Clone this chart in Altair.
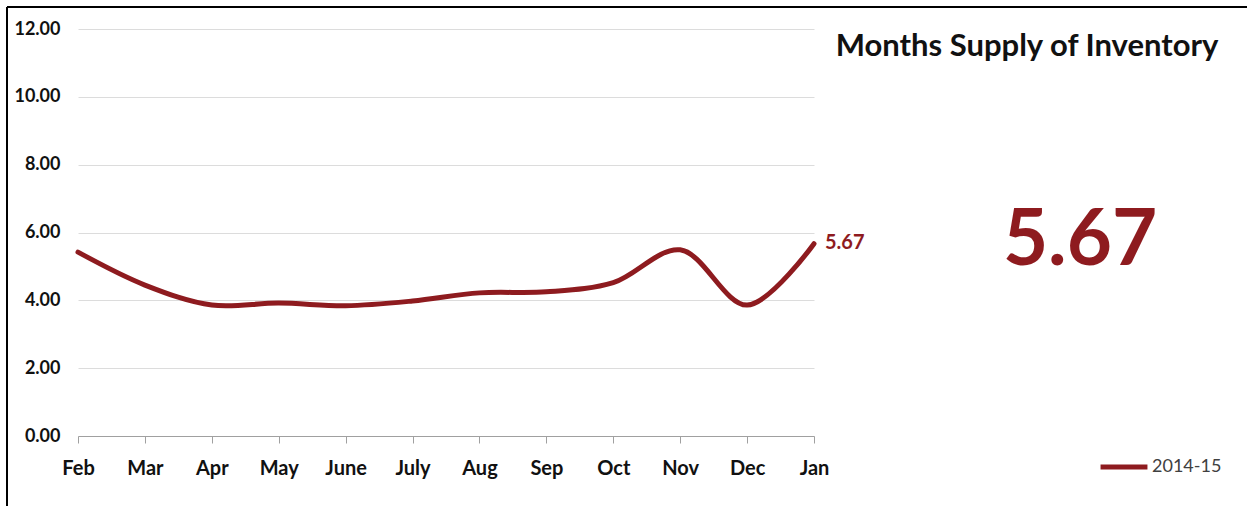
import altair as alt
import pandas as pd

months = ["Feb", "Mar", "Apr", "May", "June", "July", "Aug", "Sep", "Oct", "Nov", "Dec", "Jan"]
values = [5.42, 4.45, 3.86, 3.92, 3.84, 3.98, 4.22, 4.25, 4.52, 5.49, 3.86, 5.67]
series = "2014-15"
title_text = "Months Supply of Inventory"

RED = "#8E1B1F"
FONT = "Lato"

df = pd.DataFrame({"month": months, "value": values, "series": series})
last = df.tail(1)

W, H = 736, 407

x_enc = alt.X("month:N", sort=months, scale=alt.Scale(type="point", padding=0),
              axis=alt.Axis(title=None, labelAngle=0, labelFont=FONT, labelFontSize=20,
                            labelFontWeight="bold", labelColor="#111111", labelPadding=15,
                            tickSize=7, tickColor="#a0a0a0", domainColor="#a0a0a0",
                            grid=False))
y_enc = alt.Y("value:Q", scale=alt.Scale(domain=[0, 12], nice=False),
              axis=alt.Axis(title=None, values=[0, 2, 4, 6, 8, 10, 12], format=".2f",
                            labelFont=FONT, labelFontSize=18, labelFontWeight="bold",
                            labelColor="#111111", labelPadding=18, domain=False, ticks=False,
                            gridColor="#dcdcdc", gridWidth=1))

line = alt.Chart(df).mark_line(interpolate="catmull-rom", strokeWidth=5, strokeCap="round").encode(
    x=x_enc, y=y_enc,
    color=alt.Color("series:N", scale=alt.Scale(range=[RED]),
                    legend=alt.Legend(title=None, orient="none", legendX=1020, legendY=412,
                                      symbolType="stroke", symbolSize=2200, symbolStrokeWidth=5,
                                      labelFont=FONT, labelFontSize=18, labelColor="#404040",
                                      labelOffset=2))
)

end_label = alt.Chart(last).mark_text(align="left", baseline="middle", dx=11, dy=-1, font=FONT,
                                      fontSize=20, fontWeight="bold", color=RED).encode(
    x=alt.X("month:N", sort=months), y=alt.Y("value:Q"), text=alt.Text("value:Q", format=".2f")
)

big = alt.Chart(last).mark_text(align="center", baseline="middle", font=FONT, fontSize=78,
                                fontWeight="bold", color=RED).encode(
    x=alt.value(1002), y=alt.value(213), text=alt.Text("value:Q", format=".2f")
)

title = alt.Chart(pd.DataFrame({"t": [title_text]})).mark_text(
    align="center", baseline="middle", font=FONT, fontSize=31, fontWeight="bold", color="#111111"
).encode(x=alt.value(949), y=alt.value(18), text="t:N")

frame_df = pd.DataFrame({"k": [0]})
left_border = alt.Chart(frame_df).mark_rule(color="#000000", strokeWidth=2).encode(
    x=alt.value(-71), y=alt.value(-22), y2=alt.value(480))
top_border = alt.Chart(frame_df).mark_rule(color="#000000", strokeWidth=2).encode(
    x=alt.value(-71), x2=alt.value(1172), y=alt.value(-22))

chart = alt.layer(line, end_label, big, title, left_border, top_border).properties(
    width=W, height=H,
    background="white",
    autosize=alt.AutoSizeParams(type="none"),
    padding={"left": 78, "top": 29, "right": 433, "bottom": 70},
).configure_view(stroke=None)

chart.save("out.html", embed_options={"renderer": "svg", "actions": False})
